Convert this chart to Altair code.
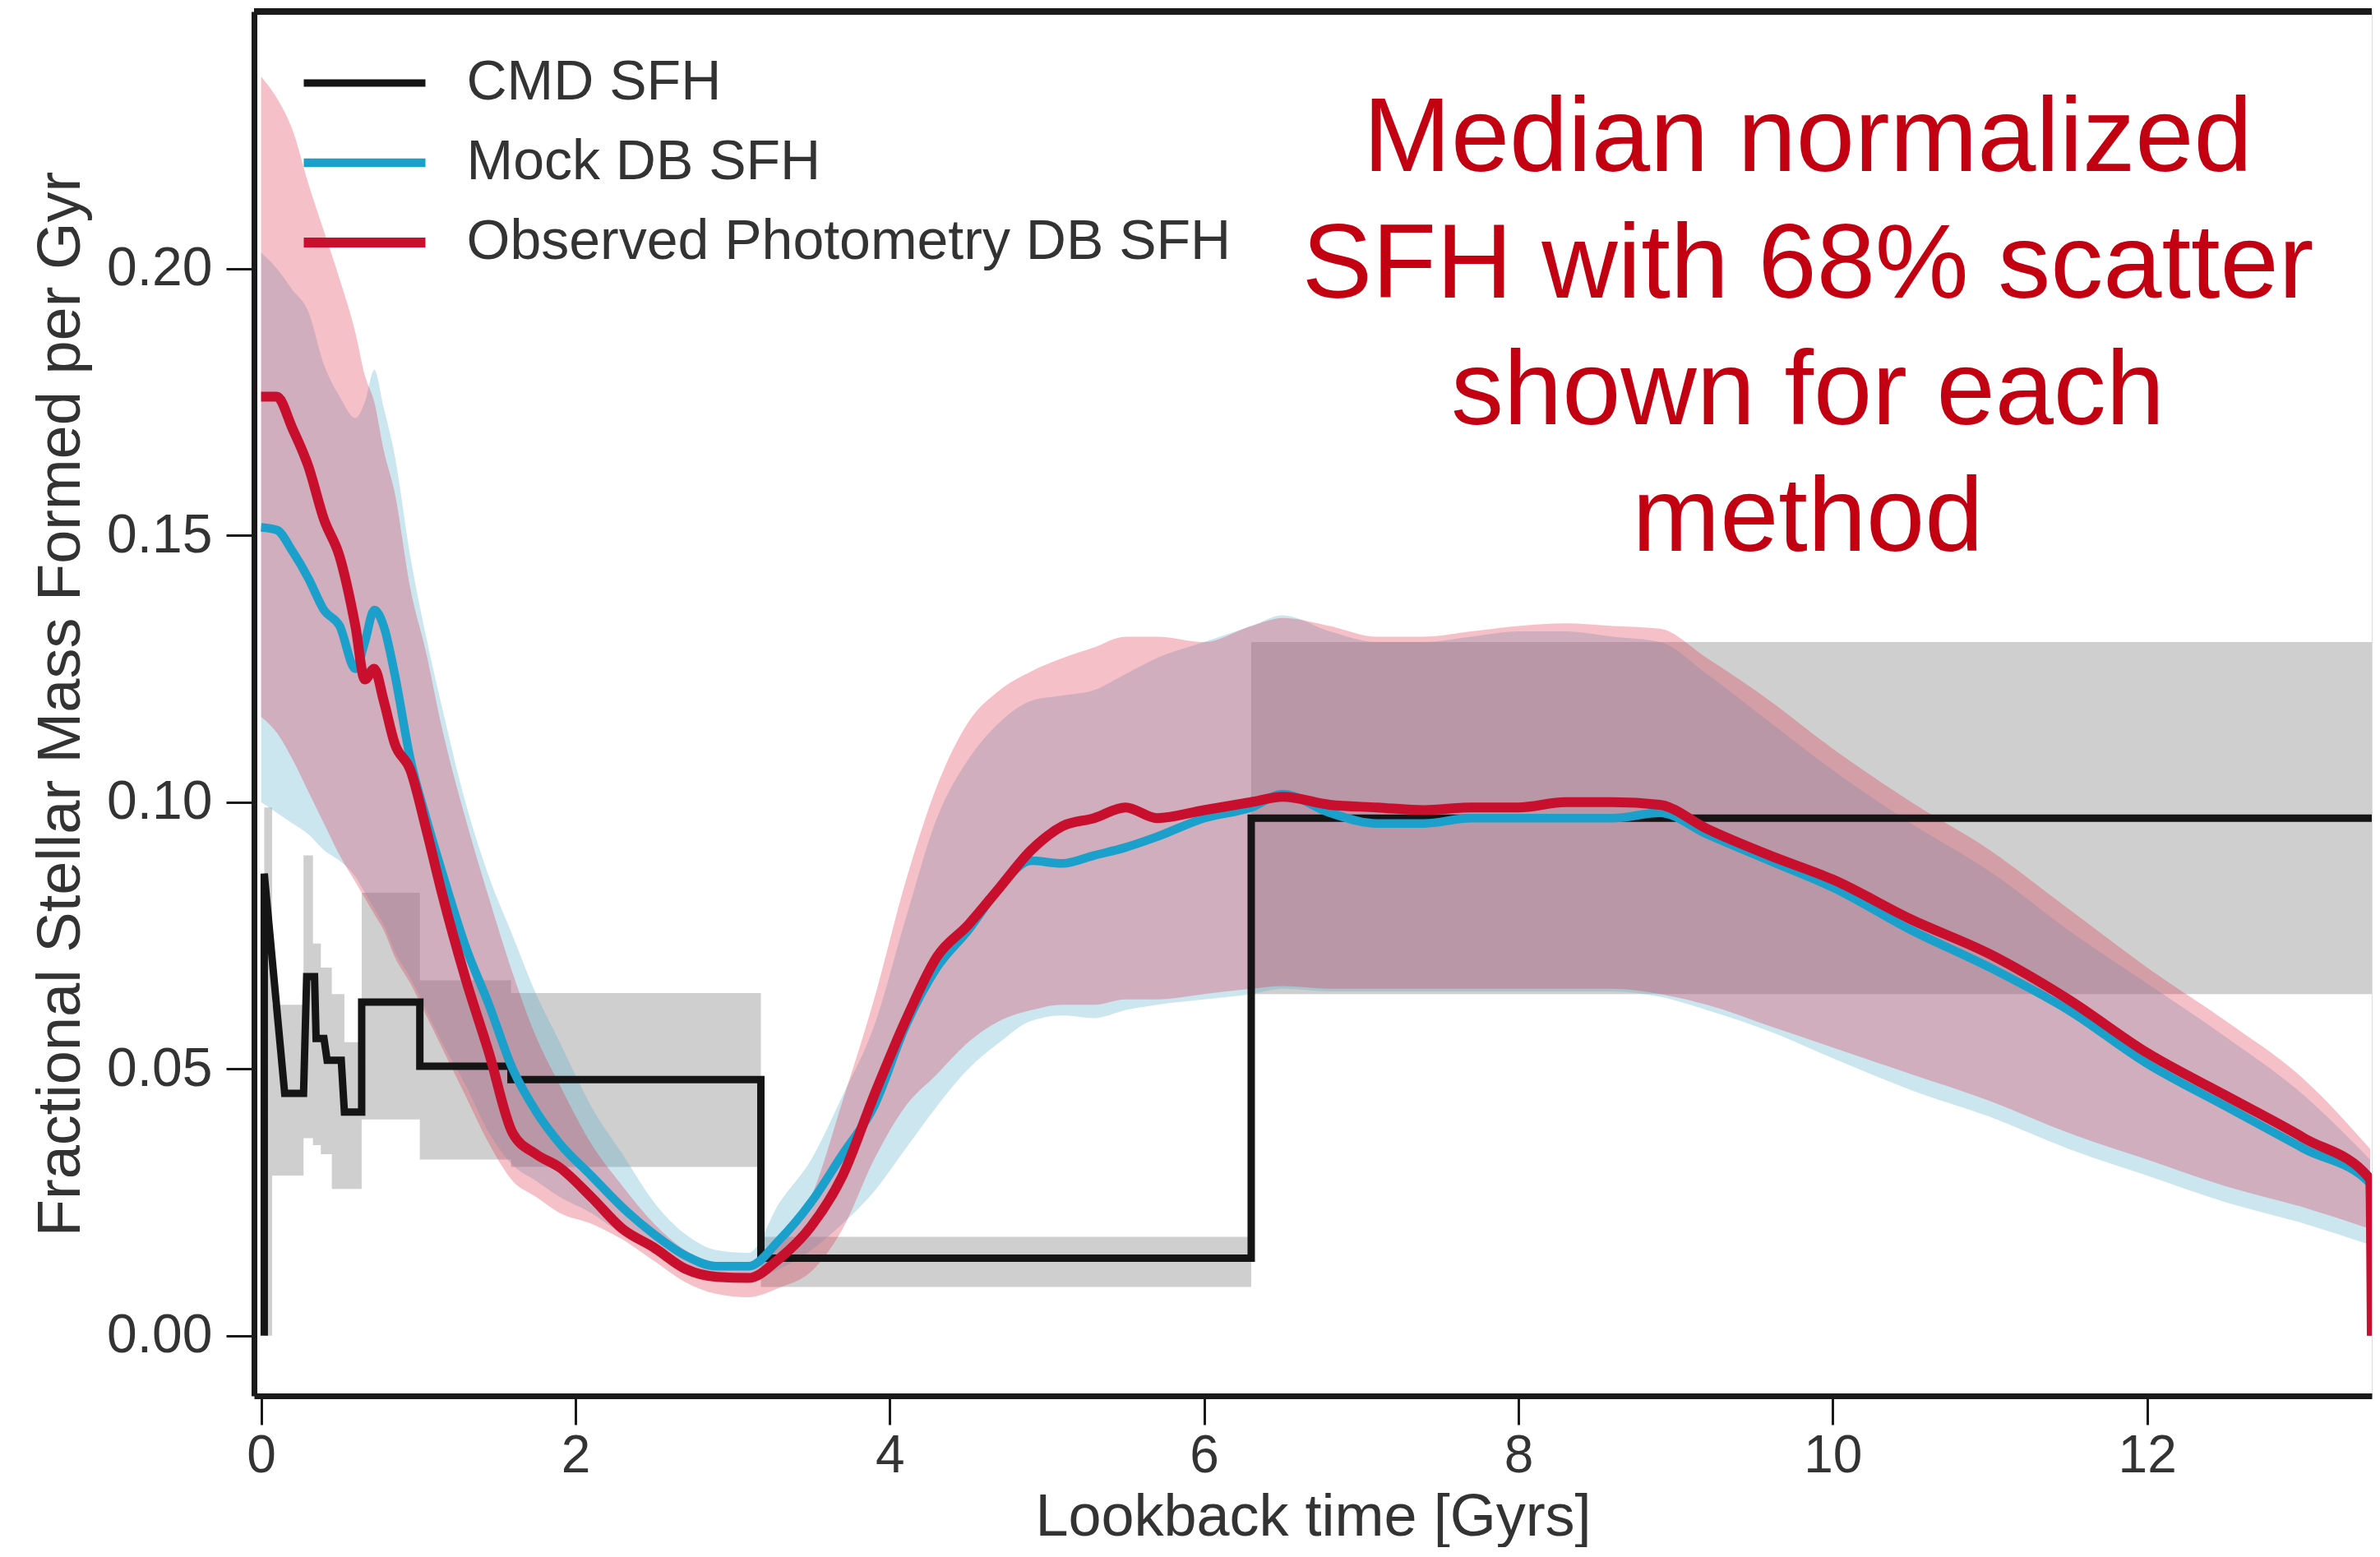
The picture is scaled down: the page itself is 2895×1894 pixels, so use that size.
import altair as alt
import pandas as pd

# ---------------- data ----------------
t = [0, 0.1, 0.2, 0.3, 0.4, 0.5, 0.6, 0.66, 0.72, 0.78, 0.85, 0.95, 1.05, 1.15, 1.3, 1.45,
     1.6, 1.75, 1.9, 2.1, 2.3, 2.5, 2.7, 2.9, 3.1, 3.3, 3.5, 3.7, 3.9, 4.1, 4.3, 4.5, 4.7,
     4.9, 5.1, 5.3, 5.5, 5.7, 6.0, 6.3, 6.5, 6.8, 7.1, 7.4, 7.7, 8.0, 8.3, 8.6, 8.9, 9.2,
     9.6, 10.0, 10.5, 11.0, 11.5, 12.0, 12.5, 13.0, 13.42]

obs_med = [0.176, 0.176, 0.170, 0.163, 0.153, 0.146, 0.133, 0.123, 0.125, 0.119, 0.111, 0.106,
           0.095, 0.083, 0.067, 0.053, 0.038, 0.034, 0.0315, 0.026, 0.020, 0.0165, 0.0125,
           0.011, 0.0108, 0.0145, 0.0205, 0.030, 0.045, 0.059, 0.071, 0.077, 0.084, 0.091,
           0.0955, 0.097, 0.099, 0.097, 0.0985, 0.100, 0.101, 0.0995, 0.099, 0.0985, 0.099,
           0.099, 0.100, 0.100, 0.0995, 0.095, 0.090, 0.0855, 0.078, 0.0715, 0.063, 0.053,
           0.045, 0.037, 0.0293]
obs_lo = [0.116, 0.113, 0.108, 0.102, 0.096, 0.090, 0.085, 0.082, 0.079, 0.076, 0.071, 0.066,
          0.060, 0.054, 0.045, 0.036, 0.029, 0.026, 0.023, 0.021, 0.018, 0.014, 0.010, 0.0078,
          0.0072, 0.009, 0.012, 0.020, 0.033, 0.043, 0.049, 0.055, 0.059, 0.061, 0.062, 0.062,
          0.063, 0.063, 0.064, 0.065, 0.0655, 0.065, 0.065, 0.065, 0.065, 0.065, 0.065, 0.065,
          0.064, 0.062, 0.058, 0.054, 0.049, 0.044, 0.038, 0.033, 0.028, 0.024, 0.020]
obs_hi = [0.236, 0.232, 0.226, 0.216, 0.207, 0.198, 0.188, 0.180, 0.175, 0.166, 0.158, 0.140,
          0.128, 0.114, 0.097, 0.082, 0.068, 0.056, 0.047, 0.036, 0.028, 0.021, 0.016, 0.0135,
          0.013, 0.017, 0.026, 0.044, 0.063, 0.085, 0.103, 0.115, 0.121, 0.1245, 0.127, 0.129,
          0.131, 0.131, 0.130, 0.133, 0.1345, 0.133, 0.131, 0.131, 0.132, 0.133, 0.1335, 0.133,
          0.1325, 0.127, 0.119, 0.110, 0.100, 0.091, 0.080, 0.069, 0.059, 0.048, 0.035]

mock_med = [0.1515, 0.151, 0.147, 0.142, 0.136, 0.133, 0.125, 0.130, 0.136, 0.133, 0.124, 0.108,
            0.097, 0.087, 0.073, 0.062, 0.050, 0.042, 0.036, 0.030, 0.024, 0.019, 0.015, 0.013,
            0.013, 0.018, 0.025, 0.034, 0.043, 0.058, 0.069, 0.076, 0.084, 0.089, 0.0885, 0.090,
            0.0915, 0.0935, 0.097, 0.099, 0.1015, 0.098, 0.096, 0.096, 0.097, 0.097, 0.097,
            0.097, 0.098, 0.094, 0.089, 0.084, 0.076, 0.069, 0.061, 0.051, 0.043, 0.035, 0.0285]
mock_lo = [0.100, 0.098, 0.096, 0.094, 0.091, 0.089, 0.086, 0.083, 0.080, 0.077, 0.072, 0.067,
           0.061, 0.055, 0.047, 0.038, 0.032, 0.029, 0.026, 0.023, 0.019, 0.016, 0.013, 0.011,
           0.0105, 0.0125, 0.016, 0.021, 0.027, 0.035, 0.043, 0.050, 0.055, 0.059, 0.060, 0.0595,
           0.061, 0.062, 0.063, 0.064, 0.065, 0.0645, 0.0645, 0.0645, 0.0645, 0.0645, 0.0645,
           0.0645, 0.0635, 0.061, 0.057, 0.052, 0.046, 0.041, 0.035, 0.030, 0.025, 0.021, 0.017]
mock_hi = [0.203, 0.200, 0.196, 0.192, 0.182, 0.176, 0.172, 0.175, 0.181, 0.174, 0.165, 0.146,
           0.131, 0.118, 0.100, 0.086, 0.075, 0.064, 0.055, 0.043, 0.034, 0.025, 0.019, 0.016,
           0.0155, 0.025, 0.033, 0.045, 0.058, 0.078, 0.097, 0.108, 0.115, 0.119, 0.120, 0.121,
           0.124, 0.127, 0.130, 0.133, 0.135, 0.132, 0.130, 0.130, 0.131, 0.132, 0.132, 0.131,
           0.130, 0.124, 0.115, 0.106, 0.096, 0.087, 0.076, 0.066, 0.056, 0.045, 0.033]

t_end = 13.43  # medians drop to zero at the last age bin

# CMD SFH (step history, vertices)
cmd_x = [0.02, 0.02, 0.15, 0.27, 0.29, 0.34, 0.35, 0.40, 0.42, 0.51, 0.53, 0.64, 0.64,
         1.01, 1.01, 1.59, 1.59, 3.18, 3.18, 6.3, 6.3, 13.43]
cmd_y = [0.0, 0.0866, 0.0454, 0.0454, 0.0673, 0.0673, 0.0557, 0.0557, 0.0516, 0.0516, 0.0419,
         0.0419, 0.0625, 0.0625, 0.0505, 0.0505, 0.048, 0.048, 0.0145, 0.0145, 0.097, 0.097]

# CMD uncertainty (step band, left edges)
gray_x = [0.02, 0.07, 0.27, 0.33, 0.38, 0.45, 0.53, 0.64, 1.01, 1.59, 3.18, 6.3, 13.43]
gray_lo = [0.0, 0.030, 0.037, 0.0357, 0.034, 0.0275, 0.0275, 0.0405, 0.033, 0.0316, 0.0091,
           0.064, 0.064]
gray_hi = [0.099, 0.062, 0.090, 0.0735, 0.069, 0.064, 0.055, 0.083, 0.0666, 0.0642, 0.0185,
           0.130, 0.130]

names = ["CMD SFH", "Mock DB SFH", "Observed Photometry DB SFH"]
y_ticks = [0.0, 0.05, 0.10, 0.15, 0.20]
x_ticks = [0, 2, 4, 6, 8, 10, 12]
note = ["Median normalized", "SFH with 68% scatter", "shown for each", "method"]

# ---------------- layout / style ----------------
W, H = 2576, 1684
FONT = "Liberation Sans"
XDOM = [-0.045, 13.43]
YDOM = [-0.0113, 0.2482]
line_colors = ["#151515", "#1ba0cc", "#c8102e"]
line_widths = [9, 12, 8]

xs = alt.Scale(domain=XDOM, nice=False, zero=False)
ys = alt.Scale(domain=YDOM, nice=False, zero=False)

x_axis = alt.Axis(values=x_ticks, format="d", grid=False, tickSize=35, tickWidth=3,
                  tickColor="#1a1a1a", domainWidth=7, domainColor="#1a1a1a",
                  labelFontSize=64, labelColor="#333333", labelFont=FONT, labelPadding=6,
                  labelFlush=False, labelOverlap=False,
                  title="Lookback time [Gyrs]", titleFontSize=72, titleFont=FONT,
                  titleFontWeight="normal", titleColor="#333333", titleY=147,
                  titleBaseline="middle")
y_axis = alt.Axis(values=y_ticks, format=".2f", grid=False, tickSize=34, tickWidth=3,
                  tickColor="#1a1a1a", domainWidth=7, domainColor="#1a1a1a",
                  labelFontSize=66, labelColor="#333333", labelFont=FONT, labelPadding=17,
                  labelOverlap=False,
                  title="Fractional Stellar Mass Formed per Gyr", titleFontSize=74,
                  titleFont=FONT, titleFontWeight="normal", titleColor="#333333",
                  titleX=-235, titleY=H / 2, titleAngle=270, titleAlign="center",
                  titleBaseline="middle")


def X(field):
    return alt.X(field, type="quantitative", scale=xs, axis=x_axis)


def Y(field):
    return alt.Y(field, type="quantitative", scale=ys, axis=y_axis)


gray_df = pd.DataFrame({"t": gray_x, "lo": gray_lo, "hi": gray_hi})
band_df = pd.DataFrame({"t": t, "mock_lo": mock_lo, "mock_hi": mock_hi,
                        "obs_lo": obs_lo, "obs_hi": obs_hi})

cmd_rows = [{"series": names[0], "t": a, "v": b, "i": i}
            for i, (a, b) in enumerate(zip(cmd_x, cmd_y))]
med_rows = []
for i, (a, b) in enumerate(zip(t + [t_end], mock_med + [0.0])):
    med_rows.append({"series": names[1], "t": a, "v": b, "i": i})
for i, (a, b) in enumerate(zip(t + [t_end], obs_med + [0.0])):
    med_rows.append({"series": names[2], "t": a, "v": b, "i": i})

gray = alt.Chart(gray_df).mark_area(interpolate="step-after", color="#8c8c8c",
                                    opacity=0.42).encode(
    x=X("t"), y=Y("lo"), y2="hi:Q")

mock_band = alt.Chart(band_df).mark_area(color="#5fb2cd", opacity=0.32,
                                         interpolate="monotone").encode(
    x=X("t"), y=Y("mock_lo"), y2="mock_hi:Q")

obs_band = alt.Chart(band_df).mark_area(color="#de2d48", opacity=0.30,
                                        interpolate="monotone").encode(
    x=X("t"), y=Y("obs_lo"), y2="obs_hi:Q")

legend = alt.Legend(orient="none", legendX=54.5, legendY=47, padding=0, clipHeight=80,
                    rowPadding=17, symbolType="stroke", symbolSize=148 * 148,
                    symbolStrokeWidth=15, symbolOpacity=1, labelOffset=44,
                    labelFontSize=68, labelColor="#333333", labelFont=FONT,
                    labelLimit=2000, title=None)

color = alt.Color("series:N", scale=alt.Scale(domain=names, range=line_colors),
                  legend=legend)
width_enc = alt.StrokeWidth("series:N", scale=alt.Scale(domain=names, range=line_widths),
                            legend=None)

cmd_line = alt.Chart(pd.DataFrame(cmd_rows)).mark_line(clip=True).encode(
    x=X("t"), y=Y("v"), color=color, strokeWidth=width_enc, order=alt.Order("i:Q"))

med_lines = alt.Chart(pd.DataFrame(med_rows)).mark_line(
    clip=True, interpolate="monotone").encode(
    x=X("t"), y=Y("v"), color=color, strokeWidth=width_enc, order=alt.Order("i:Q"))

note_df = pd.DataFrame({"text": ["\n".join(note)]})
annotation = alt.Chart(note_df).mark_text(
    align="center", baseline="top", lineBreak="\n", lineHeight=154, fontSize=128,
    font=FONT, color="#c20012").encode(
    x=alt.value(1890), y=alt.value(93), text="text:N")

top_df = pd.DataFrame({"a": [0]})
top_rule = alt.Chart(top_df).mark_rule(color="#1a1a1a", strokeWidth=8).encode(
    x=alt.value(0), x2=alt.value(W), y=alt.value(0))

chart = alt.layer(gray, mock_band, obs_band, cmd_line, med_lines, annotation,
                  top_rule).properties(
    width=W, height=H,
    padding={"left": 301, "top": 6, "right": 2, "bottom": 184},
    autosize=alt.AutoSizeParams(type="none"),
    background="white",
).configure_view(stroke=None).configure(font=FONT)

chart.save("out.html", embed_options={"renderer": "svg", "actions": False})
